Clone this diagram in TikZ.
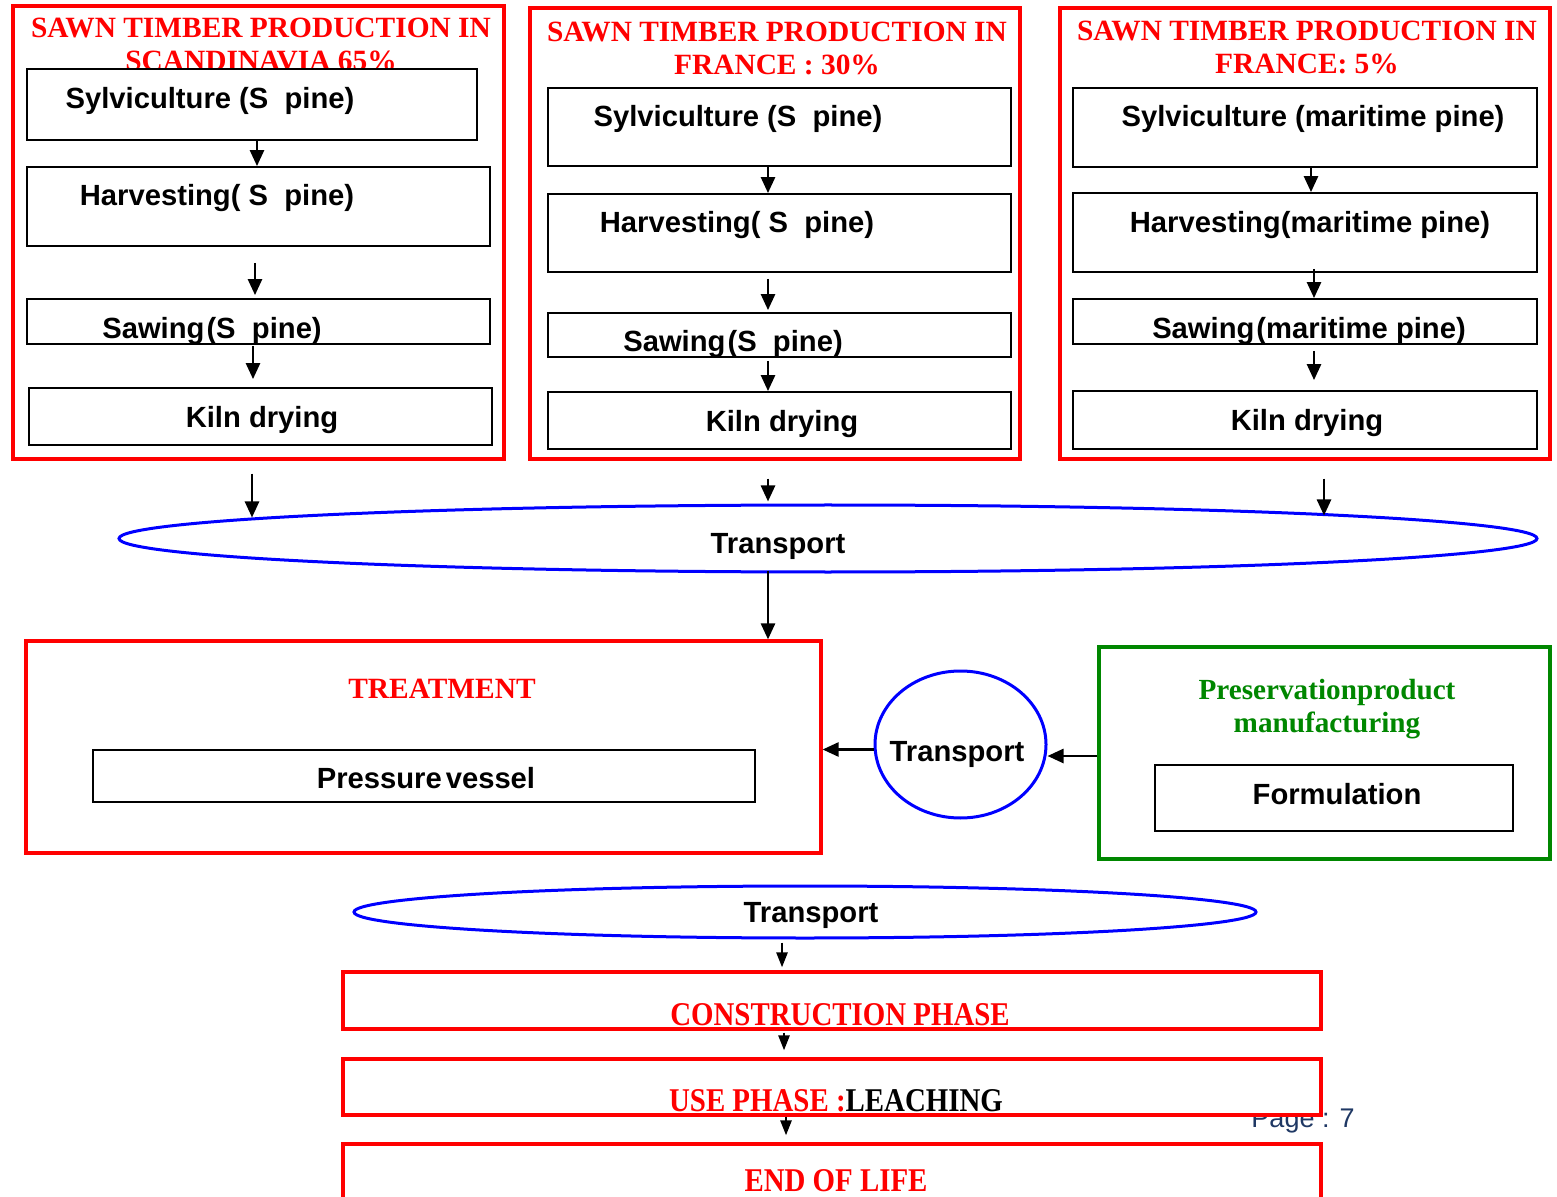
\documentclass[tikz,border=0pt]{standalone}
\usepackage{fontspec}
\setmainfont{Liberation Sans}
\newfontfamily\tnr{Liberation Serif}
\usetikzlibrary{arrows.meta,shapes.geometric,calc}
\definecolor{tred}{RGB}{255,0,0}
\definecolor{tblue}{RGB}{0,0,255}
\definecolor{tgreen}{RGB}{0,135,0}
\definecolor{pgblue}{RGB}{31,56,100}
\tikzset{
  frame/.style={draw=tred,line width=1.6pt},
  gframe/.style={draw=tgreen,line width=1.6pt},
  lbl/.style={inner sep=0pt,yshift=-1.5pt,font=\fontsize{14.6}{17}\selectfont\bfseries},
  ttl/.style={inner sep=0pt,text=tred,align=center,font=\fontsize{14.7}{16.5}\selectfont\tnr\bfseries},
  gttl/.style={inner sep=0pt,text=tgreen,align=center,font=\fontsize{14.6}{16.5}\selectfont\tnr\bfseries},
  oval/.style={ellipse,draw=tblue,line width=1.5pt,inner sep=0pt},
  arr/.style={line width=1.3pt,-{Triangle[width=7pt,length=8pt]}},
  sarr/.style={line width=1.3pt,-{Triangle[width=5.5pt,length=7.5pt]}},
  phase/.style={inner sep=0pt,text=tred}
}
\newcommand{\boxfit}[5]{\node[draw=black,line width=0.9pt,fill=white,inner sep=0pt,minimum width={(#4-#2)*0.5pt},minimum height={(#5-#3)*0.5pt}] (#1) at ({(#2+#4)/2},{(#3+#5)/2}) {};}
\newcommand{\redbox}[5]{\node[draw=tred,line width=1.6pt,fill=white,inner sep=0pt,minimum width={(#4-#2)*0.5pt},minimum height={(#5-#3)*0.5pt}] (#1) at ({(#2+#4)/2},{(#3+#5)/2}) {};}
\newcommand{\ph}[1]{\scalebox{0.87}[1]{\fontsize{16.6}{18}\selectfont\tnr\bfseries #1}}
\begin{document}
\begin{tikzpicture}[x=0.5pt,y=-0.5pt]
\useasboundingbox (0,0) rectangle (1557,1197);
\clip (0,0) rectangle (1557,1197);
\fill[white] (0,0) rectangle (1557,1197);

% ---------- three production frames ----------
\node[frame,inner sep=0pt,minimum width={491*0.5pt},minimum height={453*0.5pt}] (fr1) at (258.5,232.5) {};
\node[frame,inner sep=0pt,minimum width={490*0.5pt},minimum height={451*0.5pt}] (fr2) at (775,233.5) {};
\node[frame,inner sep=0pt,minimum width={490*0.5pt},minimum height={451*0.5pt}] (fr3) at (1305,233.5) {};

\node[ttl] (t1) at (261,44) {SAWN TIMBER PRODUCTION IN\\SCANDINAVIA 65\%};
\node[ttl] (t2) at (777,48) {SAWN TIMBER PRODUCTION IN\\FRANCE : 30\%};
\node[ttl] (t3) at (1307,47) {SAWN TIMBER PRODUCTION IN\\FRANCE: 5\%};

% left column
\boxfit{sy1}{27}{69}{477}{140}
\boxfit{hv1}{27}{167}{490}{246}
\boxfit{sw1}{27}{299}{490}{344}
\boxfit{kd1}{29}{388}{492}{445}
\node[lbl] (l11) at (210,98) {Sylviculture (S\ \ pine)};
\node[lbl] (l12) at (217,195) {Harvesting( S\ \ pine)};
\node[lbl] (l13) at (212,328) {Sawing\kern1pt(S\ \ pine)};
\node[lbl] (l14) at (262,417) {Kiln drying};

% middle column
\boxfit{sy2}{548}{88}{1011}{166}
\boxfit{hv2}{548}{194}{1011}{272}
\boxfit{sw2}{548}{313}{1011}{357}
\boxfit{kd2}{548}{392}{1011}{449}
\node[lbl] (l21) at (738,116) {Sylviculture (S\ \ pine)};
\node[lbl] (l22) at (737,222) {Harvesting( S\ \ pine)};
\node[lbl] (l23) at (733,341) {Sawing\kern1pt(S\ \ pine)};
\node[lbl] (l24) at (782,421) {Kiln drying};

% right column
\boxfit{sy3}{1073}{88}{1537}{167}
\boxfit{hv3}{1073}{193}{1537}{272}
\boxfit{sw3}{1073}{299}{1537}{344}
\boxfit{kd3}{1073}{391}{1537}{449}
\node[lbl] (l31) at (1313,116) {Sylviculture (maritime pine)};
\node[lbl] (l32) at (1310,222) {Harvesting(maritime pine)};
\node[lbl] (l33) at (1309,328) {Sawing\kern1pt(maritime pine)};
\node[lbl] (l34) at (1307,420) {Kiln drying};

% arrow columns
\coordinate (a1) at (257,0);
\coordinate (a2) at (255,0);
\coordinate (a3) at (253,0);
\coordinate (b1) at (768,0);
\coordinate (c1) at (1311,0);
\coordinate (c2) at (1314,0);
\coordinate (d1) at (252,0);
\coordinate (d3) at (1324,0);
\draw[arr] (a1 |- sy1.south) -- (a1 |- hv1.north);
\draw[arr,shorten <=8pt,shorten >=1.5pt] (a2 |- hv1.south) -- (a2 |- sw1.north);
\draw[arr,shorten <=0.5pt,shorten >=4pt] (a3 |- sw1.south) -- (a3 |- kd1.north);
\draw[arr] (b1 |- sy2.south) -- (b1 |- hv2.north);
\draw[arr,shorten <=3pt,shorten >=1pt] (b1 |- hv2.south) -- (b1 |- sw2.north);
\draw[arr,shorten <=1.5pt] (b1 |- sw2.south) -- (b1 |- kd2.north);
\draw[arr] (c1 |- sy3.south) -- (c1 |- hv3.north);
\draw[arr,shorten <=-2pt] (c2 |- hv3.south) -- (c2 |- sw3.north);
\draw[arr,shorten <=3pt,shorten >=5pt] (c2 |- sw3.south) -- (c2 |- kd3.north);

% ---------- big transport ellipse ----------
\node[oval,minimum width={1418*0.5pt},minimum height={67*0.5pt}] (tr1) at (828,538.5) {};
\node[lbl] (lt1) at (778,543) {Transport};
\draw[arr,shorten <=6.5pt,shorten >=-7pt] (d1 |- fr1.south) -- (d1 |- tr1.north);
\draw[arr,shorten <=9pt,shorten >=1pt] (b1 |- fr2.south) -- (b1 |- tr1.north);
\draw[arr,shorten <=9pt,shorten >=-6pt] (d3 |- fr3.south) -- (d3 |- tr1.north);

% ---------- treatment ----------
\node[frame,inner sep=0pt,minimum width={795*0.5pt},minimum height={212*0.5pt}] (trt) at (423.5,747) {};
\node[ttl] (ltr) at (442,689) {TREATMENT};
\boxfit{pv}{93}{750}{755}{802}
\node[lbl] (lpv) at (426,775) {Pressure\kern2pt vessel};
\draw[arr,shorten <=-1.5pt] (b1 |- tr1.south) -- (b1 |- trt.north);

% ---------- preservation product ----------
\node[gframe,inner sep=0pt,minimum width={451*0.5pt},minimum height={212*0.5pt}] (grn) at (1324.5,753) {};
\node[gttl] (lgr) at (1327,709) {Preservationproduct\\manufacturing};
\boxfit{fm}{1155}{765}{1513}{831}
\node[lbl] (lfm) at (1337,791) {Formulation};

% small transport circle
\node[oval,minimum width={171*0.5pt},minimum height={147*0.5pt}] (ci) at (960.5,744.5) {};
\node[lbl] (lci) at (957,751) {Transport};
\draw[arr] ([yshift=-2.5pt]ci.west) -- ([yshift=-2.5pt]ci.west -| trt.east);
\draw[arr] ([yshift=-1.5pt]grn.west) -- ([yshift=-1.5pt]grn.west -| ci.east);

% ---------- lower transport ellipse ----------
\node[oval,minimum width={902*0.5pt},minimum height={52*0.5pt}] (tr2) at (805,912) {};
\node[lbl] (lt2) at (811,912) {Transport};

% page number (partly hidden by the next box)
\node[inner sep=0pt,text=pgblue,font=\fontsize{13.5}{15}\selectfont] (pg) at (1303,1121) {Page : 7};

\redbox{cp}{343}{972}{1321}{1029}
\redbox{up}{343}{1059}{1321}{1115}
\redbox{el}{343}{1144}{1321}{1260}
\node[phase] (lcp) at (840,1015) {\ph{CONSTRUCTION PHASE}};
\node[phase] (lup) at (836,1101) {\ph{USE PHASE :\textcolor{black}{LEACHING}}};
\node[phase] (lel) at (836,1181) {\ph{END OF LIFE}};

\coordinate (e1) at (782,0);
\coordinate (e2) at (784,0);
\coordinate (e3) at (786,0);
\draw[sarr,shorten <=1.5pt,shorten >=1.5pt] (e1 |- tr2.south) -- (e1 |- cp.north);
\draw[sarr,shorten <=1pt,shorten >=3.5pt] (e2 |- cp.south) -- (e2 |- up.north);
\draw[sarr,shorten >=3.5pt] (e3 |- up.south) -- (e3 |- el.north);
\end{tikzpicture}
\end{document}
